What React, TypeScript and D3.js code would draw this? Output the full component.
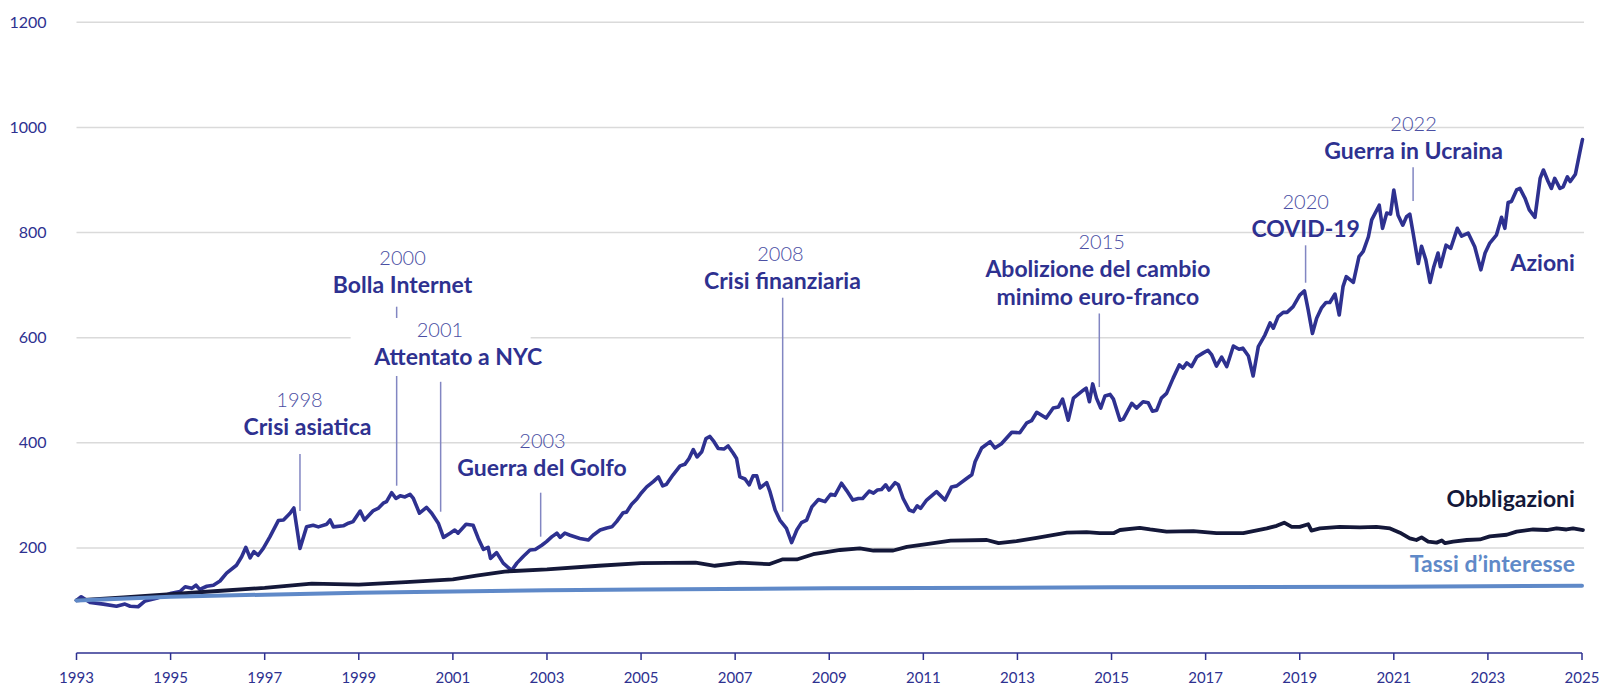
import React from 'react';
import * as d3 from 'd3';

const W = 1599;
const H = 686;

const xDomain = [1993, 2025];
const yDomain = [0, 1200];
const xTicks = [1993, 1995, 1997, 1999, 2001, 2003, 2005, 2007, 2009, 2011, 2013, 2015, 2017, 2019, 2021, 2023, 2025];
const yTicks = [200, 400, 600, 800, 1000, 1200];

// Azioni (stocks) — decimal year / index value
const azioniDates = [
  1993.0, 1993.1, 1993.29, 1993.57, 1993.85, 1994.03, 1994.14, 1994.31, 1994.46, 1994.7, 1994.99,
  1995.2, 1995.31, 1995.45, 1995.54, 1995.62, 1995.77, 1995.91, 1996.05, 1996.19, 1996.4, 1996.51,
  1996.6, 1996.69, 1996.77, 1996.86, 1996.97, 1997.11, 1997.29, 1997.4, 1997.54, 1997.62, 1997.75,
  1997.89, 1998.03, 1998.14, 1998.32, 1998.39, 1998.46, 1998.67, 1998.78, 1998.88, 1999.03, 1999.12,
  1999.31, 1999.41, 1999.52, 1999.59, 1999.7, 1999.79, 1999.88, 1999.98, 2000.09, 2000.16, 2000.29,
  2000.44, 2000.55, 2000.69, 2000.8, 2000.94, 2001.04, 2001.11, 2001.28, 2001.43, 2001.54, 2001.65,
  2001.75, 2001.8, 2001.93, 2002.07, 2002.25, 2002.36, 2002.5, 2002.64, 2002.75, 2002.89, 2002.99,
  2003.1, 2003.21, 2003.28, 2003.38, 2003.49, 2003.7, 2003.88, 2003.98, 2004.13, 2004.27, 2004.38,
  2004.48, 2004.62, 2004.69, 2004.8, 2004.91, 2005.01, 2005.12, 2005.26, 2005.37, 2005.46, 2005.54,
  2005.68, 2005.83, 2005.93, 2006.02, 2006.11, 2006.19, 2006.29, 2006.38, 2006.46, 2006.55, 2006.64,
  2006.76, 2006.85, 2006.96, 2007.03, 2007.1, 2007.21, 2007.3, 2007.38, 2007.46, 2007.53, 2007.67,
  2007.74, 2007.85, 2007.95, 2008.09, 2008.2, 2008.31, 2008.41, 2008.52, 2008.63, 2008.77, 2008.91,
  2009.03, 2009.12, 2009.26, 2009.37, 2009.5, 2009.62, 2009.71, 2009.85, 2009.94, 2010.02, 2010.11,
  2010.2, 2010.27, 2010.4, 2010.47, 2010.57, 2010.7, 2010.79, 2010.87, 2010.94, 2011.07, 2011.28,
  2011.46, 2011.6, 2011.71, 2011.92, 2012.03, 2012.1, 2012.24, 2012.42, 2012.52, 2012.66, 2012.88,
  2013.05, 2013.2, 2013.3, 2013.41, 2013.61, 2013.76, 2013.87, 2013.96, 2014.08, 2014.19, 2014.4,
  2014.46, 2014.53, 2014.6, 2014.68, 2014.77, 2014.86, 2014.97, 2015.04, 2015.18, 2015.25, 2015.43,
  2015.53, 2015.67, 2015.78, 2015.87, 2015.96, 2016.06, 2016.17, 2016.31, 2016.44, 2016.52, 2016.6,
  2016.7, 2016.81, 2016.95, 2017.05, 2017.13, 2017.23, 2017.34, 2017.45, 2017.59, 2017.71, 2017.79,
  2017.91, 2018.01, 2018.12, 2018.26, 2018.37, 2018.44, 2018.54, 2018.65, 2018.73, 2018.86, 2019.0,
  2019.1, 2019.18, 2019.27, 2019.36, 2019.46, 2019.56, 2019.64, 2019.75, 2019.84, 2019.92, 2019.99,
  2020.14, 2020.26, 2020.35, 2020.46, 2020.53, 2020.69, 2020.76, 2020.85, 2020.93, 2021.0, 2021.09,
  2021.19, 2021.27, 2021.34, 2021.41, 2021.52, 2021.59, 2021.68, 2021.77, 2021.85, 2021.94, 2021.99,
  2022.11, 2022.21, 2022.35, 2022.44, 2022.58, 2022.72, 2022.85, 2022.94, 2023.04, 2023.18, 2023.29,
  2023.36, 2023.43, 2023.5, 2023.61, 2023.68, 2023.79, 2023.88, 2024.0, 2024.11, 2024.18, 2024.28,
  2024.35, 2024.42, 2024.53, 2024.6, 2024.69, 2024.75, 2024.86, 2024.95, 2025.01,
];
const azioniValues = [
  100, 107, 96, 93, 89, 93, 89, 88, 99, 104, 113,
  117, 126, 123, 129, 121, 127, 129, 137, 152, 167, 183,
  201, 181, 193, 186, 199, 221, 252, 253, 266, 276, 199,
  240, 243, 240, 245, 253, 240, 242, 247, 250, 270, 253,
  271, 275, 285, 288, 305, 294, 299, 297, 302, 294, 266,
  277, 266, 247, 220, 228, 234, 228, 245, 243, 218, 197,
  201, 180, 191, 171, 157, 171, 184, 196, 197, 205, 212,
  221, 228, 220, 228, 224, 218, 215, 224, 234, 238, 240,
  250, 267, 268, 283, 293, 305, 316, 326, 335, 318, 321,
  339, 356, 359, 370, 387, 373, 383, 408, 412, 402, 389,
  388, 394, 380, 370, 335, 331, 320, 337, 337, 314, 324,
  307, 272, 253, 237, 210, 234, 248, 253, 278, 292, 288,
  302, 300, 323, 309, 291, 294, 294, 308, 304, 310, 311,
  320, 310, 324, 320, 294, 272, 269, 280, 275, 291, 307,
  291, 316, 318, 332, 339, 364, 390, 402, 390, 398, 420,
  419, 438, 442, 458, 447, 466, 468, 483, 443, 485, 500,
  504, 478, 512, 485, 466, 489, 492, 483, 443, 445, 475,
  466, 478, 476, 460, 462, 485, 494, 523, 548, 542, 552,
  545, 563, 571, 576, 567, 546, 563, 545, 584, 578, 580,
  565, 527, 583, 605, 628, 618, 640, 648, 648, 659, 681,
  689, 653, 608, 637, 656, 667, 667, 683, 643, 697, 716,
  705, 754, 764, 792, 824, 852, 808, 837, 835, 881, 833,
  814, 830, 835, 799, 741, 774, 748, 705, 735, 761, 735,
  776, 770, 808, 793, 799, 773, 729, 761, 780, 795, 829,
  808, 857, 859, 881, 884, 865, 843, 829, 903, 919, 897,
  884, 903, 884, 887, 906, 897, 911, 951, 977,
];

// Obbligazioni (bonds)
const obbligDates = [
  1993.0, 1994.0, 1995.0, 1996.0, 1997.0, 1998.0, 1999.0, 2000.0, 2001.0, 2001.5,
  2002.1, 2002.3, 2003.0, 2004.1, 2005.0, 2006.16, 2006.57, 2007.1, 2007.72, 2008.0,
  2008.31, 2008.66, 2008.94, 2009.23, 2009.65, 2009.94, 2010.36, 2010.65, 2011.07, 2011.58,
  2012.35, 2012.6, 2012.98, 2013.41, 2014.05, 2014.47, 2014.75, 2015.04, 2015.18, 2015.6,
  2015.82, 2016.17, 2016.74, 2017.23, 2017.8, 2018.3, 2018.51, 2018.67, 2018.83, 2019.0,
  2019.18, 2019.25, 2019.43, 2019.85, 2020.28, 2020.63, 2020.92, 2021.13, 2021.34, 2021.48,
  2021.59, 2021.73, 2021.91, 2022.02, 2022.09, 2022.26, 2022.55, 2022.83, 2023.04, 2023.4,
  2023.61, 2023.96, 2024.25, 2024.46, 2024.67, 2024.81, 2025.02,
];
const obbligValues = [
  100, 106, 112, 118, 124, 132, 130, 135, 140, 147,
  155, 156, 159, 166, 171, 172, 166, 172, 169, 178,
  178, 188, 192, 196, 199, 195, 195, 202, 207, 214,
  215, 209, 213, 219, 229, 230, 228, 228, 234, 238,
  235, 231, 232, 228, 228, 237, 242, 248, 240, 240,
  245, 233, 237, 240, 239, 240, 237, 229, 218, 215,
  220, 212, 210, 214, 209, 212, 215, 216, 222, 225,
  231, 235, 234, 237, 235, 237, 234,
];

// Tassi d'interesse (interest rates)
const tassiDates = [1993, 1995, 1997, 1999, 2001, 2003, 2005, 2009, 2015, 2021, 2025];
const tassiValues = [100, 107, 111, 114.5, 117, 119.5, 121, 123, 125, 126, 128];

// Annotations
const annYears = ['1998', '2000', '2001', '2003', '2008', '2015', '2020', '2022'];
const annTitles = [
  ['Crisi asiatica'],
  ['Bolla Internet'],
  ['Attentato a NYC'],
  ['Guerra del Golfo'],
  ['Crisi finanziaria'],
  ['Abolizione del cambio', 'minimo euro-franco'],
  ['COVID-19'],
  ['Guerra in Ucraina'],
];
const annLeaderDate = [1997.75, 1999.805, 2000.74, 2002.866, 2008.01, 2014.74, 2019.125, 2021.41];
const annLeaderTop = [378.6, 658.9, 516, 305, 676, 646, 775.7, 924];
const annLeaderBottom = [270, 318.3, 268.8, 221.3, 268.8, 506, 704.5, 860];
const annYearDate = [1997.74, 1999.93, 2000.725, 2002.905, 2007.963, 2014.79, 2019.127, 2021.42];
const annTitleDate = [1997.91, 1999.93, 2001.115, 2002.894, 2008.005, 2014.71, 2019.127, 2021.42];
const annTitleValue = [414.8, 685.5, 548, 336.8, 692, 716.3, 792, 940];
const annMasked = [false, false, true, false, false, false, false, false];

const seriesLabels = ['Azioni', 'Obbligazioni', 'Tassi d\u2019interesse'];
const seriesLabelValues = [727, 277, 154.7];
const seriesLabelDate = 2024.85;

const C_AZ = '#2e3190';
const C_OB = '#141839';
const C_TA = '#5f89c8';
const C_TEXT = '#2e3190';
const C_YEAR = '#4a4ea3';
const C_LEADER = '#8286c2';
const FONT = "Lato, 'Source Sans Pro', 'Noto Sans', sans-serif";

export default function App() {
  const x = d3.scaleLinear().domain(xDomain).range([76.5, 1582]);
  const y = d3.scaleLinear().domain(yDomain).range([653, 22.3]);

  const line = d3
    .line<[number, number]>()
    .x((d) => x(d[0]))
    .y((d) => y(d[1]))
    .curve(d3.curveLinear);

  const az = line(azioniDates.map((d, i) => [d, azioniValues[i]]) as [number, number][]) || '';
  const ob = line(obbligDates.map((d, i) => [d, obbligValues[i]]) as [number, number][]) || '';
  const ta = line(tassiDates.map((d, i) => [d, tassiValues[i]]) as [number, number][]) || '';

  const gridX2 = x(2025) + 2;

  return (
    <svg
      width={W}
      height={H}
      style={{ position: 'absolute', left: 0, top: 0, background: '#fff' }}
      fontFamily={FONT}
    >
      {yTicks.map((t) => (
        <line key={'g' + t} x1={x(1993)} x2={gridX2} y1={y(t)} y2={y(t)} stroke="#dadada" strokeWidth={1.5} />
      ))}
      {yTicks.map((t) => (
        <text key={'yl' + t} x={46.5} y={y(t)} dy="0.35em" textAnchor="end" fontSize={16} fill={C_TEXT} fontWeight={400}>
          {t}
        </text>
      ))}
      <line x1={x(1993)} x2={x(2025)} y1={y(0)} y2={y(0)} stroke={C_TEXT} strokeWidth={1.5} />
      {xTicks.map((t) => (
        <g key={'xt' + t}>
          <line x1={x(t)} x2={x(t)} y1={y(0)} y2={y(0) + 7} stroke={C_TEXT} strokeWidth={1.5} />
          <text x={x(t)} y={683} textAnchor="middle" fontSize={15} fill={C_TEXT}>
            {t}
          </text>
        </g>
      ))}

      {annLeaderDate.map((d, i) => (
        <line
          key={'ld' + i}
          x1={x(d)}
          x2={x(d)}
          y1={y(annLeaderTop[i])}
          y2={y(annLeaderBottom[i])}
          stroke={C_LEADER}
          strokeWidth={1.5}
        />
      ))}

      {annMasked.map((m, i) =>
        m ? (
          <rect
            key={'mk' + i}
            x={x(annLeaderDate[i]) - 90}
            width={180}
            y={y(annTitleValue[i]) - 47}
            height={58}
            fill="#fff"
          />
        ) : null
      )}

      {annYears.map((yr, i) => (
        <g key={'an' + i}>
          <text
            x={x(annYearDate[i])}
            y={y(annTitleValue[i]) - 28}
            textAnchor="middle"
            fontSize={20}
            fontWeight={300}
            fill={C_YEAR}
          >
            {yr}
          </text>
          {annTitles[i].map((tl, j) => (
            <text
              key={j}
              x={x(annTitleDate[i])}
              y={y(annTitleValue[i]) + j * 28}
              textAnchor="middle"
              fontSize={23}
              fontWeight={700}
              fill={C_TEXT}
            >
              {tl}
            </text>
          ))}
        </g>
      ))}

      <path d={az} fill="none" stroke={C_AZ} strokeWidth={3.6} strokeLinejoin="round" strokeLinecap="round" />
      <path d={ob} fill="none" stroke={C_OB} strokeWidth={3.8} strokeLinejoin="round" strokeLinecap="round" />
      <path d={ta} fill="none" stroke={C_TA} strokeWidth={4} strokeLinejoin="round" strokeLinecap="round" />

      {seriesLabels.map((s, i) => (
        <text
          key={'sl' + i}
          x={x(seriesLabelDate)}
          y={y(seriesLabelValues[i])}
          textAnchor="end"
          fontSize={23}
          fontWeight={700}
          fill={[C_AZ, C_OB, C_TA][i]}
        >
          {s}
        </text>
      ))}
    </svg>
  );
}
